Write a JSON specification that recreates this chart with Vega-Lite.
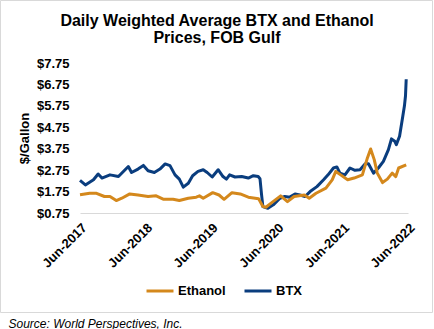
{
  "$schema": "https://vega.github.io/schema/vega-lite/v6.json",
  "width": 432,
  "height": 312,
  "autosize": "none",
  "padding": {"left": 0, "top": 0, "right": 2, "bottom": 17},
  "background": "white",
  "title": {
    "text": ["Daily Weighted Average BTX and Ethanol", "Prices, FOB Gulf"],
    "font": "Liberation Sans",
    "fontSize": 16,
    "fontWeight": "bold",
    "color": "#000000",
    "lineHeight": 17,
    "anchor": "middle",
    "frame": "group",
    "dx": 1,
    "offset": -46
  },
  "data": {
    "values": [
      {"date": "2017-06-01", "series": "BTX", "price": 2.27},
      {"date": "2017-07-01", "series": "BTX", "price": 2.06},
      {"date": "2017-08-15", "series": "BTX", "price": 2.30},
      {"date": "2017-09-10", "series": "BTX", "price": 2.57},
      {"date": "2017-10-01", "series": "BTX", "price": 2.38},
      {"date": "2017-11-15", "series": "BTX", "price": 2.53},
      {"date": "2018-01-01", "series": "BTX", "price": 2.45},
      {"date": "2018-02-25", "series": "BTX", "price": 2.92},
      {"date": "2018-03-15", "series": "BTX", "price": 2.64},
      {"date": "2018-04-20", "series": "BTX", "price": 2.80},
      {"date": "2018-05-20", "series": "BTX", "price": 2.97},
      {"date": "2018-06-15", "series": "BTX", "price": 2.72},
      {"date": "2018-07-20", "series": "BTX", "price": 2.64},
      {"date": "2018-08-20", "series": "BTX", "price": 2.80},
      {"date": "2018-09-18", "series": "BTX", "price": 3.04},
      {"date": "2018-10-15", "series": "BTX", "price": 2.96},
      {"date": "2018-11-12", "series": "BTX", "price": 2.53},
      {"date": "2018-12-06", "series": "BTX", "price": 2.33},
      {"date": "2018-12-28", "series": "BTX", "price": 1.96},
      {"date": "2019-01-25", "series": "BTX", "price": 2.14},
      {"date": "2019-02-18", "series": "BTX", "price": 2.49},
      {"date": "2019-03-20", "series": "BTX", "price": 2.69},
      {"date": "2019-04-18", "series": "BTX", "price": 2.77},
      {"date": "2019-05-10", "series": "BTX", "price": 2.64},
      {"date": "2019-06-07", "series": "BTX", "price": 2.43},
      {"date": "2019-07-10", "series": "BTX", "price": 2.77},
      {"date": "2019-08-06", "series": "BTX", "price": 2.45},
      {"date": "2019-08-25", "series": "BTX", "price": 2.33},
      {"date": "2019-09-12", "series": "BTX", "price": 2.53},
      {"date": "2019-10-12", "series": "BTX", "price": 2.43},
      {"date": "2019-11-18", "series": "BTX", "price": 2.45},
      {"date": "2019-12-25", "series": "BTX", "price": 2.38},
      {"date": "2020-01-22", "series": "BTX", "price": 2.49},
      {"date": "2020-02-18", "series": "BTX", "price": 2.45},
      {"date": "2020-02-28", "series": "BTX", "price": 2.35},
      {"date": "2020-03-07", "series": "BTX", "price": 1.67},
      {"date": "2020-03-15", "series": "BTX", "price": 1.05},
      {"date": "2020-04-12", "series": "BTX", "price": 0.97},
      {"date": "2020-05-12", "series": "BTX", "price": 1.13},
      {"date": "2020-06-18", "series": "BTX", "price": 1.44},
      {"date": "2020-07-15", "series": "BTX", "price": 1.52},
      {"date": "2020-08-12", "series": "BTX", "price": 1.49},
      {"date": "2020-09-10", "series": "BTX", "price": 1.64},
      {"date": "2020-10-07", "series": "BTX", "price": 1.59},
      {"date": "2020-11-05", "series": "BTX", "price": 1.52},
      {"date": "2020-12-03", "series": "BTX", "price": 1.75},
      {"date": "2021-01-10", "series": "BTX", "price": 1.98},
      {"date": "2021-02-16", "series": "BTX", "price": 2.30},
      {"date": "2021-03-13", "series": "BTX", "price": 2.53},
      {"date": "2021-04-12", "series": "BTX", "price": 2.85},
      {"date": "2021-05-01", "series": "BTX", "price": 2.90},
      {"date": "2021-05-18", "series": "BTX", "price": 2.61},
      {"date": "2021-06-15", "series": "BTX", "price": 2.53},
      {"date": "2021-07-13", "series": "BTX", "price": 2.85},
      {"date": "2021-08-10", "series": "BTX", "price": 2.74},
      {"date": "2021-09-07", "series": "BTX", "price": 2.77},
      {"date": "2021-10-06", "series": "BTX", "price": 3.05},
      {"date": "2021-10-24", "series": "BTX", "price": 3.05},
      {"date": "2021-11-21", "series": "BTX", "price": 2.61},
      {"date": "2021-12-18", "series": "BTX", "price": 2.85},
      {"date": "2022-01-15", "series": "BTX", "price": 3.16},
      {"date": "2022-02-12", "series": "BTX", "price": 3.71},
      {"date": "2022-03-01", "series": "BTX", "price": 4.21},
      {"date": "2022-03-19", "series": "BTX", "price": 4.10},
      {"date": "2022-03-28", "series": "BTX", "price": 3.94},
      {"date": "2022-04-15", "series": "BTX", "price": 4.33},
      {"date": "2022-05-03", "series": "BTX", "price": 5.27},
      {"date": "2022-05-12", "series": "BTX", "price": 5.74},
      {"date": "2022-05-18", "series": "BTX", "price": 6.21},
      {"date": "2022-05-22", "series": "BTX", "price": 6.99},
      {"date": "2017-06-01", "series": "Ethanol", "price": 1.60},
      {"date": "2017-07-25", "series": "Ethanol", "price": 1.67},
      {"date": "2017-09-01", "series": "Ethanol", "price": 1.67},
      {"date": "2017-10-15", "series": "Ethanol", "price": 1.52},
      {"date": "2017-11-15", "series": "Ethanol", "price": 1.52},
      {"date": "2017-12-20", "series": "Ethanol", "price": 1.33},
      {"date": "2018-01-20", "series": "Ethanol", "price": 1.44},
      {"date": "2018-03-05", "series": "Ethanol", "price": 1.64},
      {"date": "2018-04-20", "series": "Ethanol", "price": 1.59},
      {"date": "2018-06-15", "series": "Ethanol", "price": 1.52},
      {"date": "2018-07-30", "series": "Ethanol", "price": 1.55},
      {"date": "2018-09-10", "series": "Ethanol", "price": 1.39},
      {"date": "2018-11-01", "series": "Ethanol", "price": 1.39},
      {"date": "2018-12-06", "series": "Ethanol", "price": 1.33},
      {"date": "2019-01-25", "series": "Ethanol", "price": 1.44},
      {"date": "2019-03-10", "series": "Ethanol", "price": 1.49},
      {"date": "2019-03-28", "series": "Ethanol", "price": 1.55},
      {"date": "2019-04-18", "series": "Ethanol", "price": 1.44},
      {"date": "2019-06-10", "series": "Ethanol", "price": 1.70},
      {"date": "2019-07-15", "series": "Ethanol", "price": 1.59},
      {"date": "2019-08-12", "series": "Ethanol", "price": 1.39},
      {"date": "2019-09-25", "series": "Ethanol", "price": 1.70},
      {"date": "2019-11-10", "series": "Ethanol", "price": 1.64},
      {"date": "2019-12-25", "series": "Ethanol", "price": 1.49},
      {"date": "2020-02-20", "series": "Ethanol", "price": 1.42},
      {"date": "2020-03-15", "series": "Ethanol", "price": 1.05},
      {"date": "2020-04-01", "series": "Ethanol", "price": 1.02},
      {"date": "2020-04-28", "series": "Ethanol", "price": 1.20},
      {"date": "2020-06-22", "series": "Ethanol", "price": 1.55},
      {"date": "2020-07-30", "series": "Ethanol", "price": 1.28},
      {"date": "2020-09-05", "series": "Ethanol", "price": 1.52},
      {"date": "2020-11-01", "series": "Ethanol", "price": 1.59},
      {"date": "2020-11-28", "series": "Ethanol", "price": 1.44},
      {"date": "2021-01-05", "series": "Ethanol", "price": 1.67},
      {"date": "2021-03-01", "series": "Ethanol", "price": 1.91},
      {"date": "2021-04-05", "series": "Ethanol", "price": 2.30},
      {"date": "2021-04-25", "series": "Ethanol", "price": 2.69},
      {"date": "2021-05-22", "series": "Ethanol", "price": 2.53},
      {"date": "2021-06-30", "series": "Ethanol", "price": 2.30},
      {"date": "2021-08-05", "series": "Ethanol", "price": 2.38},
      {"date": "2021-09-20", "series": "Ethanol", "price": 2.53},
      {"date": "2021-10-18", "series": "Ethanol", "price": 3.32},
      {"date": "2021-11-05", "series": "Ethanol", "price": 3.74},
      {"date": "2021-11-25", "series": "Ethanol", "price": 3.24},
      {"date": "2021-12-12", "series": "Ethanol", "price": 2.61},
      {"date": "2022-01-10", "series": "Ethanol", "price": 2.17},
      {"date": "2022-02-06", "series": "Ethanol", "price": 2.33},
      {"date": "2022-03-05", "series": "Ethanol", "price": 2.61},
      {"date": "2022-03-25", "series": "Ethanol", "price": 2.45},
      {"date": "2022-04-10", "series": "Ethanol", "price": 2.85},
      {"date": "2022-05-22", "series": "Ethanol", "price": 3.00}
    ]
  },
  "mark": {"type": "line", "strokeWidth": 3, "strokeJoin": "round", "interpolate": "linear"},
  "encoding": {
    "x": {
      "field": "date",
      "type": "temporal",
      "scale": {"domain": ["2017-06-01", "2022-06-01"], "range": [80, 408]},
      "axis": {
        "values": ["2017-06-01", "2018-06-01", "2019-06-01", "2020-06-01", "2021-06-01", "2022-06-01"],
        "format": "%b-%Y",
        "offset": -99,
        "labelAngle": -45,
        "labelFont": "Liberation Sans",
        "labelFontSize": 13,
        "labelFontWeight": "bold",
        "labelColor": "#000000",
        "labelPadding": 8,
        "ticks": false,
        "grid": false,
        "domainColor": "#d9d9d9",
        "domainWidth": 1,
        "title": "Source: World Perspectives, Inc.",
        "titleFont": "Liberation Sans",
        "titleFontSize": 12,
        "titleFontWeight": "normal",
        "titleFontStyle": "italic",
        "titleColor": "#000000",
        "titleAlign": "left",
        "titleBaseline": "alphabetic",
        "titleX": 8,
        "titleY": 114
      }
    },
    "y": {
      "field": "price",
      "type": "quantitative",
      "scale": {"domain": [0.75, 7.75], "nice": false, "zero": false, "range": [213, 63]},
      "axis": {
        "values": [0.75, 1.75, 2.75, 3.75, 4.75, 5.75, 6.75, 7.75],
        "format": "$.2f",
        "offset": -80,
        "labelFont": "Liberation Sans",
        "labelFontSize": 13,
        "labelFontWeight": "bold",
        "labelColor": "#000000",
        "labelPadding": 11,
        "ticks": false,
        "domain": false,
        "grid": false,
        "title": "$/Gallon",
        "titleFont": "Liberation Sans",
        "titleFontSize": 13,
        "titleFontWeight": "bold",
        "titleColor": "#000000",
        "titleX": -49,
        "titleY": 138,
        "titleAngle": -90,
        "titleAlign": "center",
        "titleBaseline": "bottom"
      }
    },
    "color": {
      "field": "series",
      "type": "nominal",
      "scale": {"domain": ["Ethanol", "BTX"], "range": ["#D4881C", "#0A3D7E"]},
      "legend": {
        "title": null,
        "orient": "none",
        "direction": "horizontal",
        "legendX": 145,
        "legendY": 276,
        "symbolType": "stroke",
        "symbolSize": 729,
        "symbolStrokeWidth": 3,
        "labelFont": "Liberation Sans",
        "labelFontSize": 13,
        "labelFontWeight": "bold",
        "labelColor": "#000000",
        "labelOffset": 3,
        "columnPadding": 12,
        "padding": 0
      }
    }
  },
  "config": {
    "view": {"stroke": "#d9d9d9", "strokeWidth": 1}
  }
}
